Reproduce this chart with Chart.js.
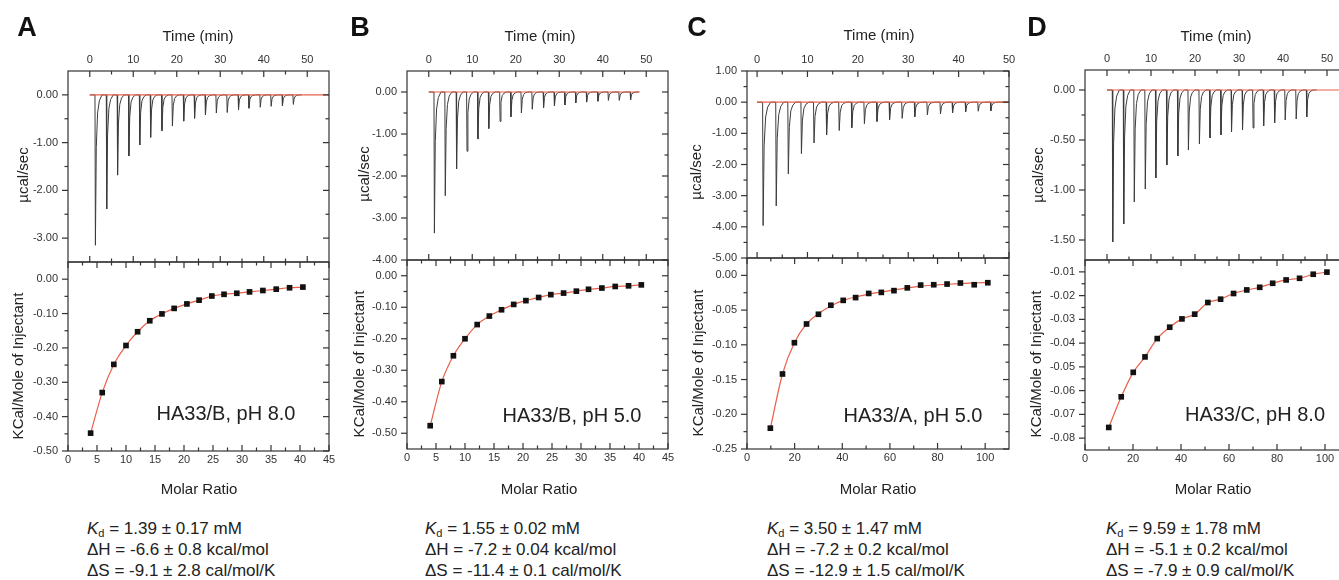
<!DOCTYPE html>
<html>
<head>
<meta charset="utf-8">
<script src="https://cdn.jsdelivr.net/npm/chart.js@4.4.1/dist/chart.umd.min.js"></script>
<style>
  html, body { margin: 0; padding: 0; background: #fff; }
  body { width: 1339px; height: 580px; position: relative; overflow: hidden;
         font-family: 'Liberation Sans', Arial, sans-serif; color: #222; }
  canvas { position: absolute; }
  .t { position: absolute; white-space: nowrap; transform: translate(-50%, -50%); }
  .letter { font-size: 27px; font-weight: bold; color: #111; }
  .axt { font-size: 15px; }
  .rot { transform: translate(-50%, -50%) rotate(-90deg); }
  .tag { font-size: 20px; }
  .ln { position: absolute; font-size: 17px; line-height: 20px; white-space: nowrap; }
  .ln sub { font-size: 11px; line-height: 0; vertical-align: -3px; }
</style>
</head>
<body>

<canvas id="rawA"></canvas><canvas id="isoA"></canvas>
<canvas id="rawB"></canvas><canvas id="isoB"></canvas>
<canvas id="rawC"></canvas><canvas id="isoC"></canvas>
<canvas id="rawD"></canvas><canvas id="isoD"></canvas>

<div class="t letter" style="left:27px;top:27px">A</div>
<div class="t letter" style="left:360px;top:27px">B</div>
<div class="t letter" style="left:697px;top:27px">C</div>
<div class="t letter" style="left:1037px;top:27px">D</div>

<div class="t axt" style="left:198px;top:35px">Time (min)</div>
<div class="t axt" style="left:540px;top:35px">Time (min)</div>
<div class="t axt" style="left:879px;top:34px">Time (min)</div>
<div class="t axt" style="left:1216px;top:35px">Time (min)</div>

<div class="t axt" style="left:199px;top:488px">Molar Ratio</div>
<div class="t axt" style="left:539px;top:488px">Molar Ratio</div>
<div class="t axt" style="left:878px;top:488px">Molar Ratio</div>
<div class="t axt" style="left:1213px;top:488px">Molar Ratio</div>

<div class="t axt rot" style="left:22px;top:175px">µcal/sec</div>
<div class="t axt rot" style="left:363px;top:174px">µcal/sec</div>
<div class="t axt rot" style="left:695px;top:172px">µcal/sec</div>
<div class="t axt rot" style="left:1037px;top:175px">µcal/sec</div>

<div class="t axt rot" style="left:17px;top:366px">KCal/Mole of Injectant</div>
<div class="t axt rot" style="left:358px;top:364px">KCal/Mole of Injectant</div>
<div class="t axt rot" style="left:697px;top:363px">KCal/Mole of Injectant</div>
<div class="t axt rot" style="left:1035px;top:364px">KCal/Mole of Injectant</div>

<div class="t tag" style="left:226px;top:413px">HA33/B, pH 8.0</div>
<div class="t tag" style="left:572px;top:415px">HA33/B, pH 5.0</div>
<div class="t tag" style="left:913px;top:415px">HA33/A, pH 5.0</div>
<div class="t tag" style="left:1255px;top:414px">HA33/C, pH 8.0</div>

<div class="ln" style="left:87px;top:519px"><i>K</i><sub>d</sub> = 1.39 ± 0.17 mM</div>
<div class="ln" style="left:87px;top:540px">ΔH = -6.6 ± 0.8 kcal/mol</div>
<div class="ln" style="left:87px;top:561px">ΔS = -9.1 ± 2.8 cal/mol/K</div>
<div class="ln" style="left:425px;top:519px"><i>K</i><sub>d</sub> = 1.55 ± 0.02 mM</div>
<div class="ln" style="left:425px;top:540px">ΔH = -7.2 ± 0.04 kcal/mol</div>
<div class="ln" style="left:425px;top:561px">ΔS = -11.4 ± 0.1 cal/mol/K</div>
<div class="ln" style="left:767px;top:519px"><i>K</i><sub>d</sub> = 3.50 ± 1.47 mM</div>
<div class="ln" style="left:767px;top:540px">ΔH = -7.2 ± 0.2 kcal/mol</div>
<div class="ln" style="left:767px;top:561px">ΔS = -12.9 ± 1.5 cal/mol/K</div>
<div class="ln" style="left:1106px;top:519px"><i>K</i><sub>d</sub> = 9.59 ± 1.78 mM</div>
<div class="ln" style="left:1106px;top:540px">ΔH = -5.1 ± 0.2 kcal/mol</div>
<div class="ln" style="left:1106px;top:561px">ΔS = -7.9 ± 0.9 cal/mol/K</div>

<script>
// ---- data ----

// raw thermograms: injection time (min) and peak height (µcal/sec)
const timesA = [1.2, 3.8, 6.3, 8.9, 11.4, 13.9, 16.5, 18.9, 21.5, 24.0, 26.5, 29.0, 31.5, 34.1, 36.5, 39.1, 41.6, 44.2, 46.7];
const peaksA = [-3.15, -2.39, -1.68, -1.28, -1.05, -0.89, -0.75, -0.65, -0.55, -0.49, -0.42, -0.38, -0.37, -0.31, -0.28, -0.26, -0.24, -0.23, -0.20];
const timesB = [1.2, 3.7, 6.3, 8.7, 11.2, 13.7, 16.3, 18.8, 21.2, 23.7, 26.3, 28.8, 31.2, 33.7, 36.2, 38.8, 41.2, 43.7, 46.3];
const peaksB = [-3.36, -2.47, -1.83, -1.41, -1.12, -0.87, -0.70, -0.59, -0.50, -0.41, -0.37, -0.33, -0.31, -0.26, -0.24, -0.22, -0.20, -0.20, -0.19];
const timesC = [1.1, 3.7, 6.1, 8.7, 11.2, 13.7, 16.2, 18.7, 21.2, 23.7, 26.2, 28.7, 31.2, 33.7, 36.3, 38.7, 41.3, 43.8, 46.3];
const peaksC = [-3.96, -3.33, -2.30, -1.65, -1.31, -1.05, -0.91, -0.82, -0.69, -0.62, -0.56, -0.52, -0.47, -0.41, -0.38, -0.34, -0.31, -0.29, -0.28];
const timesD = [1.2, 3.7, 6.1, 8.6, 11.0, 13.5, 16.0, 18.4, 20.9, 23.3, 25.8, 28.2, 30.7, 33.1, 35.5, 38.0, 40.4, 42.9, 45.3];
const peaksD = [-1.52, -1.34, -1.12, -0.99, -0.88, -0.75, -0.66, -0.60, -0.54, -0.48, -0.45, -0.42, -0.40, -0.38, -0.36, -0.33, -0.30, -0.29, -0.27];

// where the black trace and the red baseline start / end (min)
const traceA = [0, 48.7], baseA = [0, 55];
const traceB = [0, 48.3], baseB = [0, 48.5];
const traceC = [0, 50],   baseC = [0, 50];
const traceD = [0, 47.6], baseD = [0, 55];

// integrated heats: molar ratio and kcal/mole of injectant
const ratioA = [3.9, 5.9, 7.9, 10.0, 12.0, 14.1, 16.2, 18.3, 20.5, 22.6, 24.8, 26.9, 29.1, 31.3, 33.6, 35.9, 38.2, 40.5];
const heatA  = [-0.448, -0.330, -0.248, -0.193, -0.153, -0.121, -0.101, -0.085, -0.072, -0.061, -0.049, -0.044, -0.041, -0.037, -0.033, -0.029, -0.025, -0.023];
const ratioB = [4.0, 6.0, 8.0, 10.0, 12.1, 14.2, 16.3, 18.4, 20.5, 22.7, 24.8, 27.0, 29.2, 31.3, 33.6, 35.9, 38.2, 40.4];
const heatB  = [-0.476, -0.336, -0.254, -0.200, -0.155, -0.128, -0.108, -0.091, -0.079, -0.069, -0.060, -0.055, -0.049, -0.043, -0.039, -0.034, -0.032, -0.029];
const ratioC = [9.8, 14.9, 19.9, 25.0, 30.0, 35.2, 40.4, 45.6, 51.1, 56.4, 61.7, 67.3, 72.9, 78.4, 84.0, 89.6, 95.4, 101.1];
const heatC  = [-0.220, -0.142, -0.097, -0.070, -0.056, -0.043, -0.036, -0.032, -0.026, -0.0245, -0.022, -0.018, -0.014, -0.0135, -0.0125, -0.011, -0.0135, -0.0106];
const fitC   = [-0.220, -0.142, -0.097, -0.070, -0.055, -0.044, -0.036, -0.031, -0.027, -0.024, -0.021, -0.018, -0.0155, -0.0140, -0.0128, -0.0118, -0.0110, -0.0102];
const ratioD = [9.9, 15.1, 20.1, 25.0, 30.1, 35.3, 40.4, 45.7, 51.2, 56.5, 61.9, 67.4, 72.8, 78.2, 83.8, 89.4, 95.1, 100.8];
const heatD  = [-0.0755, -0.0626, -0.0523, -0.0458, -0.0381, -0.0333, -0.0298, -0.0278, -0.0229, -0.0215, -0.0191, -0.0176, -0.0165, -0.0148, -0.0134, -0.0127, -0.0110, -0.0101];

// tick labels
const timeTicks  = [0, 10, 20, 30, 40, 50];
const rawTicksA  = [0, -1, -2, -3];
const rawTicksB  = [0, -1, -2, -3, -4];
const rawTicksC  = [1, 0, -1, -2, -3, -4, -5];
const rawTicksD  = [0, -0.5, -1, -1.5];
const ratioTicks40  = [0, 5, 10, 15, 20, 25, 30, 35, 40, 45];
const ratioTicks100 = [0, 20, 40, 60, 80, 100];
const heatTicksAB = [0, -0.1, -0.2, -0.3, -0.4, -0.5];
const heatTicksC  = [0, -0.05, -0.10, -0.15, -0.20, -0.25];
const heatTicksD  = [-0.01, -0.02, -0.03, -0.04, -0.05, -0.06, -0.07, -0.08];

// ---- styling ----
Chart.defaults.font.family = "'Liberation Sans', Arial, sans-serif";
Chart.defaults.font.size = 11;
Chart.defaults.color = '#333';

const traceColor = '#3c3c3c';
const fitColor = '#e8604a';
const padL = 70, padR = 24, gap = 24;

// major ticks from the list, minor ticks half way between them
function tickMarks(scale) {
    const vals = scale.ticks.map(t => t.value);
    const out = vals.map(v => ({ v, major: true }));
    if (vals.length > 1) {
        const step = vals[1] - vals[0];
        const mids = [vals[0] - step / 2];
        for (let i = 0; i < vals.length - 1; i++) mids.push((vals[i] + vals[i + 1]) / 2);
        mids.push(vals[vals.length - 1] + step / 2);
        const eps = Math.abs(step) * 1e-3;
        mids.forEach(v => {
            if (v > scale.min + eps && v < scale.max - eps) out.push({ v, major: false });
        });
    }
    return out;
}

// origin-style box with ticks
const frameTicks = {
    id: 'frameTicks',
    afterDraw(chart) {
        const { ctx, chartArea: a, scales } = chart;
        ctx.save();
        ctx.strokeStyle = '#333';
        ctx.lineWidth = 1.2;
        ctx.strokeRect(a.left, a.top, a.right - a.left, a.bottom - a.top);
        const line = (x1, y1, x2, y2) => {
            ctx.beginPath(); ctx.moveTo(x1, y1); ctx.lineTo(x2, y2); ctx.stroke();
        };
        tickMarks(scales.x).forEach(m => {
            const px = scales.x.getPixelForValue(m.v);
            const len = m.major ? 6 : 3.5;
            line(px, a.top, px, a.top + len);
            line(px, a.bottom, px, a.bottom - len);
        });
        tickMarks(scales.y).forEach(m => {
            const py = scales.y.getPixelForValue(m.v);
            const len = m.major ? 6 : 3.5;
            line(a.left, py, a.left - len, py);
            line(a.right, py, a.right - len, py);
        });
        ctx.restore();
    }
};

function setTicks(list) {
    return scale => { scale.ticks = list.map(v => ({ value: v })); };
}

function placeCanvas(id, box, top, height) {
    const cv = document.getElementById(id);
    cv.width = box.right - box.left + padL + padR;
    cv.height = height;
    cv.style.left = (box.left - padL) + 'px';
    cv.style.top = top + 'px';
    return cv;
}

// build the thermogram trace from injection times and peak heights
function thermogram(times, peaks, trace) {
    const pts = [{ x: trace[0], y: 0 }];
    times.forEach((t, i) => {
        const p = peaks[i];
        pts.push({ x: t, y: 0 });
        pts.push({ x: t + 0.1, y: p });
        pts.push({ x: t + 0.3, y: p * 0.35 });
        pts.push({ x: t + 0.6, y: p * 0.12 });
        pts.push({ x: t + 1.0, y: p * 0.04 });
        pts.push({ x: t + 1.6, y: 0 });
    });
    pts.push({ x: trace[1], y: 0 });
    return pts;
}

function baseOpts(xCfg, yCfg, layoutPad) {
    return {
        responsive: false,
        animation: false,
        layout: { padding: layoutPad },
        plugins: { legend: { display: false }, tooltip: { enabled: false } },
        scales: { x: xCfg, y: yCfg }
    };
}

function axis(min, max, ticks, fmt, extra) {
    return Object.assign({
        type: 'linear',
        min: min,
        max: max,
        afterBuildTicks: setTicks(ticks),
        grid: { display: false, drawTicks: false },
        border: { display: false },
        ticks: { autoSkip: false, maxRotation: 0, color: '#333', callback: fmt }
    }, extra);
}

const fmtInt = v => String(Math.round(v));
const fmt2 = v => v.toFixed(2);

function createRawChart(id, box, times, peaks, trace, base, tRange, yRange, yTicks) {
    const cv = placeCanvas(id, box, box.top - 40, box.mid - box.top + 40 + gap);
    const xCfg = axis(tRange[0], tRange[1], timeTicks, fmtInt, {
        position: 'top',
        afterFit: s => { s.height = 40; }
    });
    xCfg.ticks.padding = 4;
    const yCfg = axis(yRange[0], yRange[1], yTicks, fmt2, {
        afterFit: s => { s.width = padL; }
    });
    yCfg.ticks.padding = 10;
    return new Chart(cv, {
        type: 'scatter',
        data: {
            datasets: [
                {
                    data: [{ x: base[0], y: 0 }, { x: base[1], y: 0 }],
                    showLine: true, borderColor: fitColor, borderWidth: 1.2, pointRadius: 0
                },
                {
                    data: thermogram(times, peaks, trace),
                    showLine: true, borderColor: traceColor, borderWidth: 1, pointRadius: 0
                }
            ]
        },
        options: baseOpts(xCfg, yCfg, { right: padR, bottom: gap, top: 0, left: 0 }),
        plugins: [frameTicks]
    });
}

function createIsoChart(id, box, ratio, heat, fit, xRange, xTicks, yRange, yTicks) {
    const cv = placeCanvas(id, box, box.mid - gap, box.bottom - box.mid + gap + 26);
    const xCfg = axis(xRange[0], xRange[1], xTicks, fmtInt, {
        position: 'bottom',
        afterFit: s => { s.height = 26; }
    });
    xCfg.ticks.padding = 2;
    const yCfg = axis(yRange[0], yRange[1], yTicks, fmt2, {
        afterFit: s => { s.width = padL; }
    });
    yCfg.ticks.padding = 10;
    return new Chart(cv, {
        type: 'scatter',
        data: {
            datasets: [
                {
                    data: heat.map((h, i) => ({ x: ratio[i], y: h })),
                    pointStyle: 'rect', pointRadius: 4, pointBorderWidth: 0,
                    pointBackgroundColor: '#111', pointBorderColor: '#111'
                },
                {
                    data: fit.map((h, i) => ({ x: ratio[i], y: h })),
                    showLine: true, borderColor: fitColor, borderWidth: 1.2, pointRadius: 0,
                    cubicInterpolationMode: 'monotone'
                }
            ]
        },
        options: baseOpts(xCfg, yCfg, { top: gap, right: padR, bottom: 0, left: 0 }),
        plugins: [frameTicks]
    });
}

// plot boxes (px on the page)
const boxA = { left: 68,   right: 329,  top: 71, mid: 262, bottom: 451 };
const boxB = { left: 407,  right: 668,  top: 71, mid: 260, bottom: 449 };
const boxC = { left: 747,  right: 1009, top: 71, mid: 258, bottom: 449 };
const boxD = { left: 1085, right: 1349, top: 70, mid: 260, bottom: 450 };

createRawChart('rawA', boxA, timesA, peaksA, traceA, baseA, [-5, 55], [-3.5, 0.5], rawTicksA);
createRawChart('rawB', boxB, timesB, peaksB, traceB, baseB, [-5, 55], [-4, 0.5], rawTicksB);
createRawChart('rawC', boxC, timesC, peaksC, traceC, baseC, [-2, 50], [-5, 1], rawTicksC);
createRawChart('rawD', boxD, timesD, peaksD, traceD, baseD, [-5, 55], [-1.7, 0.2], rawTicksD);

createIsoChart('isoA', boxA, ratioA, heatA, heatA, [0, 45], ratioTicks40, [-0.5, 0.05], heatTicksAB);
createIsoChart('isoB', boxB, ratioB, heatB, heatB, [0, 45], ratioTicks40, [-0.55, 0.05], heatTicksAB);
createIsoChart('isoC', boxC, ratioC, heatC, fitC, [0, 110], ratioTicks100, [-0.25, 0.025], heatTicksC);
createIsoChart('isoD', boxD, ratioD, heatD, heatD, [0, 110], ratioTicks100, [-0.085, -0.005], heatTicksD);
</script>
</body>
</html>
